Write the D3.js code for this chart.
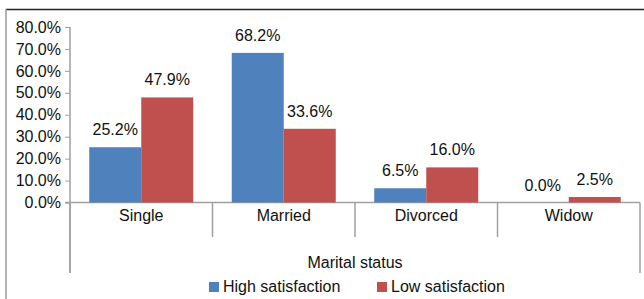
<!DOCTYPE html>
<html>
<head>
<meta charset="utf-8">
<script src="https://cdn.jsdelivr.net/npm/d3@7"></script>
<style>
  body { margin: 0; background: #fff; }
  text { font-family: "Liberation Sans", Arial, sans-serif; fill: #111; }
</style>
</head>
<body>
<div id="chart"></div>
<script>
var categories = ["Single", "Married", "Divorced", "Widow"]
var seriesNames = ["High satisfaction", "Low satisfaction"]
var highValues = [25.2, 68.2, 6.5, 0.0]
var lowValues = [47.9, 33.6, 16.0, 2.5]
var yTicks = [0, 10, 20, 30, 40, 50, 60, 70, 80]
var colors = ["#4F81BD", "#C0504D"]

const svgWidth = 644
const svgHeight = 299
var plotLeft = 70
var plotRight = 640
var plotTop = 27
var plotBottom = 202.5
var axisColor = "#a0a0a0"
var fontSize = "16px"

var svg = d3.select("#chart")
    .append("svg")
    .attr("width", svgWidth)
    .attr("height", svgHeight)

// outer frame (only top and left show in the picture)
svg.append("line")
    .attr("x1", 6).attr("x2", svgWidth).attr("y1", 9.5).attr("y2", 9.5)
    .style("stroke", "#222").style("stroke-width", 1.5)
svg.append("line")
    .attr("x1", 6).attr("x2", 6).attr("y1", 9).attr("y2", svgHeight)
    .style("stroke", "#999").style("stroke-width", 1.5)

var xScale = d3.scaleBand()
    .domain(categories)
    .range([plotLeft, plotRight])
    .paddingInner(0)
    .paddingOuter(0)

var innerScale = d3.scaleBand()
    .domain(seriesNames)
    .range([0, xScale.bandwidth()])
    .paddingOuter(0.37)
    .paddingInner(0)

var yScale = d3.scaleLinear()
    .domain([0, 80])
    .range([plotBottom, plotTop])

// y axis
var yAxis = d3.axisLeft(yScale)
    .tickValues(yTicks)
    .tickSize(5)
    .tickFormat(d => d3.format(".1f")(d) + "%")

var yG = svg.append("g")
    .attr("transform", "translate(" + plotLeft + ",0)")
    .call(yAxis)
yG.select(".domain").remove()
yG.selectAll(".tick line").style("stroke", axisColor)
yG.selectAll(".tick text")
    .attr("x", -9)
    .style("font-size", fontSize)
    .style("font-family", "Liberation Sans, Arial, sans-serif")
    .style("fill", "#111")

svg.append("line")
    .attr("x1", plotLeft).attr("x2", plotLeft)
    .attr("y1", plotTop).attr("y2", 273)
    .style("stroke", axisColor).style("stroke-width", 1.5)

// x axis line and category dividers
svg.append("line")
    .attr("x1", plotLeft - 5).attr("x2", plotRight)
    .attr("y1", plotBottom).attr("y2", plotBottom)
    .style("stroke", axisColor).style("stroke-width", 1.5)

var dividers = categories.map(c => xScale(c)).concat([plotRight])
svg.selectAll(".divider")
    .data(dividers)
    .enter()
    .append("line")
    .attr("class", "divider")
    .attr("x1", d => d).attr("x2", d => d)
    .attr("y1", plotBottom)
    .attr("y2", (d, i) => (i === 0 || i === dividers.length - 1) ? 273 : 237)
    .style("stroke", axisColor).style("stroke-width", 1.5)

svg.selectAll(".cat-label")
    .data(categories)
    .enter()
    .append("text")
    .attr("class", "cat-label")
    .attr("x", d => xScale(d) + xScale.bandwidth() / 2)
    .attr("y", 221)
    .attr("text-anchor", "middle")
    .style("font-size", fontSize)
    .text(d => d)

svg.append("text")
    .attr("x", (plotLeft + plotRight) / 2)
    .attr("y", 268)
    .attr("text-anchor", "middle")
    .style("font-size", fontSize)
    .text("Marital status")

// bars
var seriesData = [highValues, lowValues]
var groups = svg.selectAll(".series")
    .data(seriesData)
    .enter()
    .append("g")
    .attr("class", "series")
    .style("fill", (d, i) => colors[i])

groups.each(function (vals, s) {
    var g = d3.select(this)
    g.selectAll("rect")
        .data(vals)
        .enter()
        .append("rect")
        .attr("x", (d, i) => xScale(categories[i]) + innerScale(seriesNames[s]))
        .attr("y", d => yScale(d))
        .attr("width", innerScale.bandwidth())
        .attr("height", d => plotBottom - yScale(d))

    g.selectAll("text")
        .data(vals)
        .enter()
        .append("text")
        .attr("x", (d, i) => xScale(categories[i]) + innerScale(seriesNames[s]) + innerScale.bandwidth() / 2)
        .attr("y", d => yScale(d) - 12)
        .attr("text-anchor", "middle")
        .style("font-size", fontSize)
        .style("fill", "#111")
        .text(d => d3.format(".1f")(d) + "%")
})

// legend
var legendX = [209, 377]
var legend = svg.selectAll(".legend")
    .data(seriesNames)
    .enter()
    .append("g")
    .attr("class", "legend")
    .attr("transform", (d, i) => "translate(" + legendX[i] + ",282)")
legend.append("rect")
    .attr("width", 10).attr("height", 10)
    .style("fill", (d, i) => colors[i])
legend.append("text")
    .attr("x", 14)
    .attr("y", 10)
    .style("font-size", fontSize)
    .text(d => d)
</script>
</body>
</html>
